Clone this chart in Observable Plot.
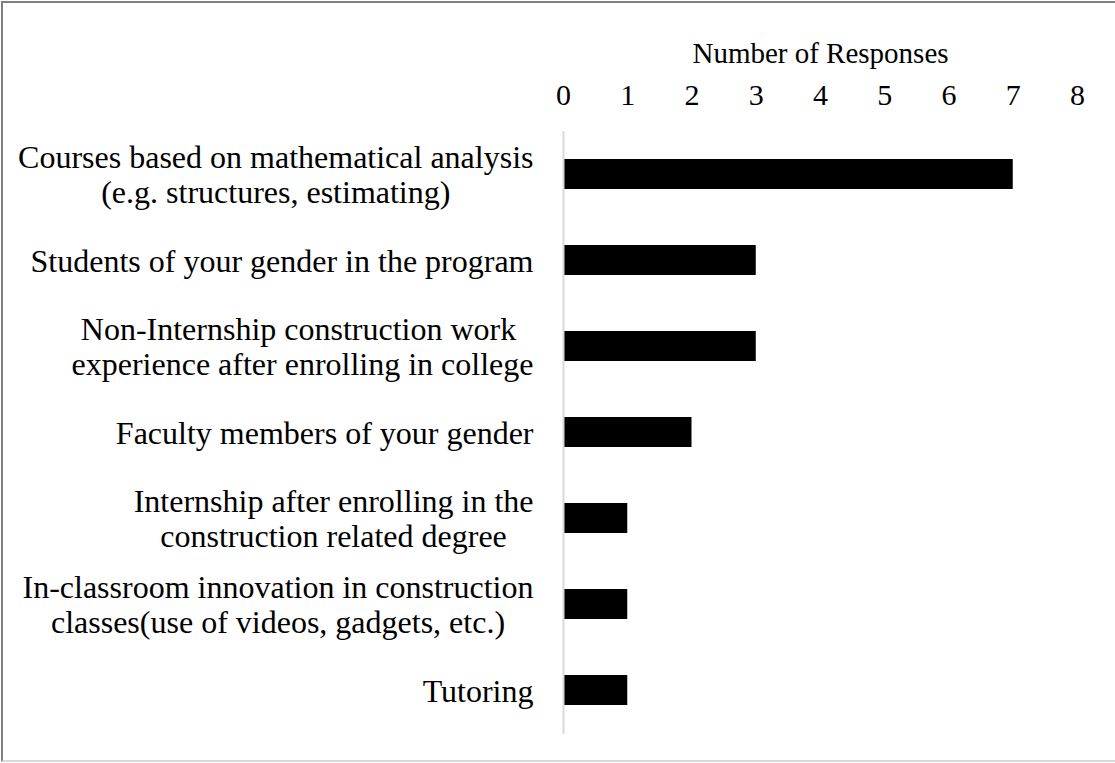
<!DOCTYPE html>
<html>
<head>
<meta charset="utf-8">
<script src="https://cdn.jsdelivr.net/npm/d3@7"></script>
<script src="https://cdn.jsdelivr.net/npm/@observablehq/plot@0.6"></script>
<style>
  html, body { margin: 0; padding: 0; background: #fff; }
  #wrap { position: relative; width: 1115px; height: 763px; overflow: hidden; }
  #wrap svg { position: absolute; left: 0; top: 0; }
  #frame { position: absolute; left: 1px; top: 1px; width: 1114px; height: 761px;
           border-left: 2px solid #7f7f7f; border-top: 2px solid #7f7f7f; border-bottom: 2px solid #d9d9d9;
           box-sizing: border-box; pointer-events: none; }
</style>
</head>
<body>
<div id="wrap"><div id="frame"></div></div>
<script>
const categories = [
  "Courses based on mathematical analysis\n(e.g. structures, estimating)",
  "Students of your gender in the program",
  "Non-Internship construction work \nexperience after enrolling in college",
  "Faculty members of your gender",
  "Internship after enrolling in the\nconstruction related degree",
  "In-classroom innovation in construction\nclasses(use of videos, gadgets, etc.)",
  "Tutoring"
];
const responses = [7, 3, 3, 2, 1, 1, 1];
const xTicks = [0, 1, 2, 3, 4, 5, 6, 7, 8];
const xTitle = "Number of Responses";

const FONT = "'Liberation Serif', 'Times New Roman', serif";
const LABEL_SIZE = 32;
const TICK_SIZE = 30;
const TITLE_SIZE = 29;

const data = categories.map((c, i) => ({label: c, value: responses[i]}));

// measure label block widths so each multi-line block is centered and right-aligned as a block
const ctx = document.createElement("canvas").getContext("2d");
ctx.font = `${LABEL_SIZE}px 'Liberation Serif'`;
const blockWidth = c => Math.max(...c.split("\n").map(l => ctx.measureText(l.trimEnd()).width));
const GAP = 30;

const labelMarks = data.map(d => Plot.text([d], {
  x: () => 0, y: "label", text: "label",
  textAnchor: "middle", lineAnchor: "middle", lineHeight: 1.08,
  dx: -(GAP + blockWidth(d.label) / 2),
  fontSize: LABEL_SIZE, fontFamily: FONT, fill: "#000"
}));

const chart = Plot.plot({
  width: 1115,
  height: 763,
  marginLeft: 563,
  marginRight: 38,
  marginTop: 131,
  marginBottom: 29,
  style: {fontFamily: FONT, color: "#000", background: "transparent", overflow: "visible"},
  x: {domain: [0, 8], axis: null},
  y: {domain: categories, paddingInner: 0.65, paddingOuter: 0.325, axis: null},
  marks: [
    Plot.barX(data, {x: "value", y: "label", fill: "#000"}),
    Plot.ruleX([0], {stroke: "#d9d9d9", strokeWidth: 2}),
    Plot.axisX({anchor: "top", ticks: xTicks, tickSize: 0, tickPadding: 27, tickFormat: d => String(d),
                fontSize: TICK_SIZE, fontFamily: FONT, label: null, fill: "#000"}),
    Plot.text([xTitle], {frameAnchor: "top", lineAnchor: "bottom", dy: -69,
                         fontSize: TITLE_SIZE, fontFamily: FONT, fill: "#000"}),
    ...labelMarks
  ]
});
document.getElementById("wrap").insertBefore(chart, document.getElementById("frame"));
</script>
</body>
</html>
